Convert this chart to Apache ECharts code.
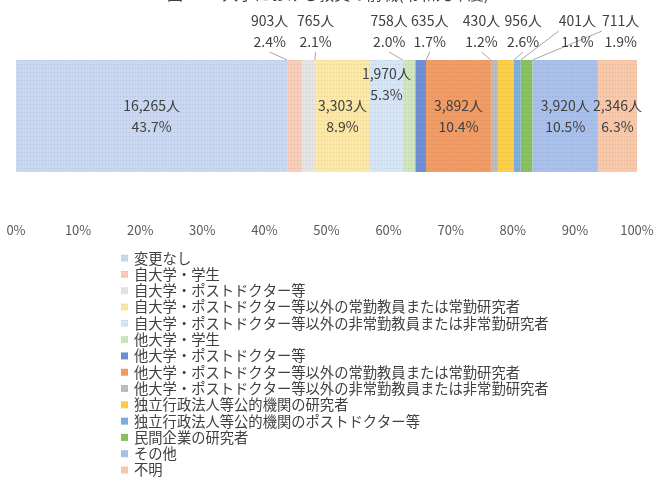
<!DOCTYPE html>
<html style="height: 100%">
<head>
 <meta charset="utf-8">
 <title>教員の前職</title>
 <script src="https://cdn.jsdelivr.net/npm/echarts@6/dist/echarts.min.js"></script>
</head>
<body style="height: 100%; margin: 0; background: #fff">
 <div id="main" style="width: 657px; height: 483px"></div>
 <script type="text/javascript">
 // 前職の区分
 var categories = [
 '変更なし',
 '自大学・学生',
 '自大学・ポストドクター等',
 '自大学・ポストドクター等以外の常勤教員または常勤研究者',
 '自大学・ポストドクター等以外の非常勤教員または非常勤研究者',
 '他大学・学生',
 '他大学・ポストドクター等',
 '他大学・ポストドクター等以外の常勤教員または常勤研究者',
 '他大学・ポストドクター等以外の非常勤教員または非常勤研究者',
 '独立行政法人等公的機関の研究者',
 '独立行政法人等公的機関のポストドクター等',
 '民間企業の研究者',
 'その他',
 '不明'
 ];
 // 人数
 var counts = [16265, 903, 765, 3303, 1970, 758, 635, 3892, 430, 956, 401, 711, 3920, 2346];
 var xTicks = ['0%', '10%', '20%', '30%', '40%', '50%', '60%', '70%', '80%', '90%', '100%'];

 var colors = ['#c9d7f0', '#f9cdb5', '#e4e4e4', '#fde7a4', '#d6e5f5', '#cfe5bb', '#6f8fd3',
 '#f29c63', '#bdbdbd', '#fdcf47', '#7eaee0', '#89c060', '#a8c0ea', '#f9c8a8'];

 // 小さい区分のラベルは上に出して引き出し線をつける [dx, dy]
 var labelShift = {
 1: [-25, -3], 2: [7, -3], 5: [-20, -3], 6: [9, -3],
 8: [-13, -3], 9: [17, -3], 10: [60, -3], 11: [94, -3]
 };

 var total = counts.reduce(function (a, b) { return a + b; }, 0);
 var font = '"Noto Sans CJK JP", sans-serif';

 var series = categories.map(function (name, i) {
 var pct = counts[i] / total * 100;
 var shift = labelShift[i];
 var s = {
 name: name,
 type: 'bar',
 stack: 'all',
 barWidth: 112,
 data: [pct],
 itemStyle: {
 color: colors[i],
 decal: {
 symbol: 'rect',
 symbolSize: 1,
 color: 'rgba(60,70,110,0.15)',
 dashArrayX: [1, 2],
 dashArrayY: [1, 3]
 }
 },
 label: {
 show: true,
 position: shift ? 'top' : 'inside',
 formatter: counts[i].toLocaleString('en-US') + '人\n' + pct.toFixed(1) + '%',
 color: '#404040',
 fontSize: 14,
 lineHeight: 21,
 fontFamily: font
 }
 };
 if (shift) {
 s.labelLayout = { dx: shift[0], dy: shift[1] };
 s.labelLine = { show: true, lineStyle: { color: '#a6a6a6', width: 1 } };
 }
 if (i === 4) {
 // 1,970人 は棒の上寄り
 s.labelLayout = { dy: -32 };
 }
 return s;
 });

 var myChart = echarts.init(document.getElementById('main'));
 var option = {
 animation: false,
 graphic: [{
 type: 'text',
 x: 328,
 y: -6,
 style: {
 text: '図 2-10 大学における教員の前職(令和元年度)',
 align: 'center',
 verticalAlign: 'middle',
 fontSize: 16,
 fill: '#404040',
 fontFamily: font
 }
 }],
 legend: {
 orient: 'vertical',
 left: 121,
 top: 250,
 padding: 0,
 itemWidth: 7,
 itemHeight: 7,
 itemGap: 0,
 icon: 'rect',
 textStyle: { fontSize: 14.3, lineHeight: 16.3, color: '#404040', fontFamily: font, padding: [0, 0, 0, 1] },
 data: categories
 },
 grid: { left: 16, right: 20, top: 12, height: 208 },
 xAxis: {
 type: 'value',
 min: 0,
 max: 100,
 interval: 10,
 axisLine: { show: false },
 axisTick: { show: false },
 splitLine: { show: false },
 axisLabel: {
 color: '#595959',
 fontSize: 13,
 fontFamily: font,
 margin: 4,
 formatter: function (v) { return xTicks[Math.round(v / 10)]; }
 }
 },
 yAxis: {
 type: 'category',
 data: [''],
 show: false
 },
 series: series
 };
 myChart.setOption(option);
 </script>
</body>
</html>
